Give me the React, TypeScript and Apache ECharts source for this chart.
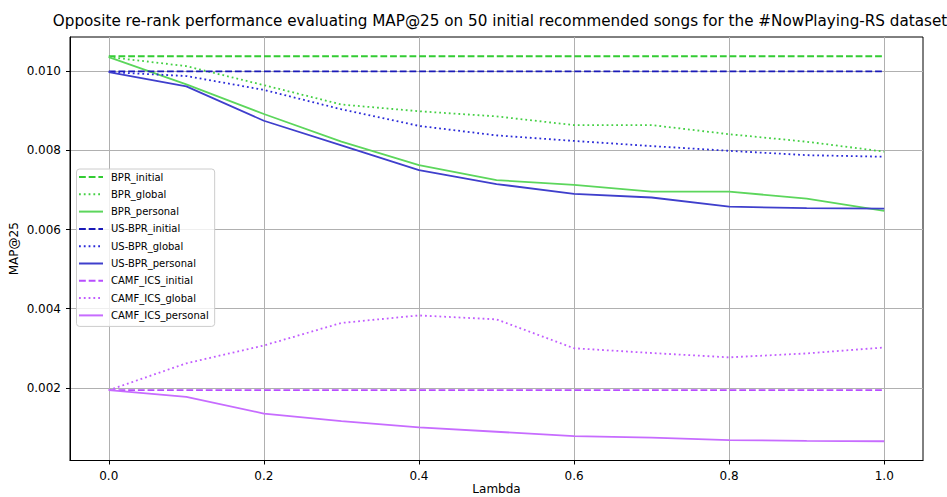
import React, { useEffect, useRef } from "react";
import * as echarts from "echarts";

// Re-rank trade-off parameter
const lambdas = [0, 0.1, 0.2, 0.3, 0.4, 0.5, 0.6, 0.7, 0.8, 0.9, 1.0];

// MAP@25 per model and re-rank strategy
const bprInitial = [0.01038, 0.01038, 0.01038, 0.01038, 0.01038, 0.01038, 0.01038, 0.01038, 0.01038, 0.01038, 0.01038];
const bprGlobal = [0.01036, 0.01013, 0.00965, 0.00916, 0.00899, 0.00886, 0.00864, 0.00864, 0.00841, 0.00822, 0.00797];
const bprPersonal = [0.01036, 0.00967, 0.00892, 0.00822, 0.00763, 0.00725, 0.00713, 0.00696, 0.00696, 0.00678, 0.00647];
const usBprInitial = [0.01, 0.01, 0.01, 0.01, 0.01, 0.01, 0.01, 0.01, 0.01, 0.01, 0.01];
const usBprGlobal = [0.00998, 0.00988, 0.00953, 0.00904, 0.00862, 0.00838, 0.00824, 0.00811, 0.00799, 0.00788, 0.00784];
const usBprPersonal = [0.00998, 0.00962, 0.00875, 0.00813, 0.0075, 0.00715, 0.0069, 0.00681, 0.00658, 0.00654, 0.00653];
const camfInitial = [0.00194, 0.00194, 0.00194, 0.00194, 0.00194, 0.00194, 0.00194, 0.00194, 0.00194, 0.00194, 0.00194];
const camfGlobal = [0.00194, 0.00262, 0.00307, 0.00364, 0.00383, 0.00373, 0.003, 0.00288, 0.00277, 0.00287, 0.00302];
const camfPersonal = [0.00194, 0.00177, 0.00135, 0.00116, 0.001, 0.00089, 0.00078, 0.00074, 0.00068, 0.00066, 0.00065];

const xTicks = [0, 0.2, 0.4, 0.6, 0.8, 1.0];
const yTicks = [0.002, 0.004, 0.006, 0.008, 0.01];

const FONT = "DejaVu Sans";
const DASHED = [6.8, 2.9];
const DOTTED = [1.8, 3];

type Style = "dashed" | "dotted" | "solid";

const seriesDefs: { name: string; values: number[]; color: string; style: Style }[] = [
  { name: "BPR_initial", values: bprInitial, color: "#33cc33", style: "dashed" },
  { name: "BPR_global", values: bprGlobal, color: "#44d044", style: "dotted" },
  { name: "BPR_personal", values: bprPersonal, color: "#5cd65c", style: "solid" },
  { name: "US-BPR_initial", values: usBprInitial, color: "#1a1ab8", style: "dashed" },
  { name: "US-BPR_global", values: usBprGlobal, color: "#2a2ad8", style: "dotted" },
  { name: "US-BPR_personal", values: usBprPersonal, color: "#3f3fcc", style: "solid" },
  { name: "CAMF_ICS_initial", values: camfInitial, color: "#b84dff", style: "dashed" },
  { name: "CAMF_ICS_global", values: camfGlobal, color: "#c15cff", style: "dotted" },
  { name: "CAMF_ICS_personal", values: camfPersonal, color: "#c76cff", style: "solid" },
];

export default function App() {
  const ref = useRef<HTMLDivElement>(null);

  useEffect(() => {
    if (!ref.current) return;
    const chart = echarts.init(ref.current, undefined, { renderer: "svg" });

    // matplotlib-style 5% data margins
    const all = seriesDefs.flatMap((s) => s.values);
    const lo = Math.min(...all);
    const hi = Math.max(...all);
    const pad = (hi - lo) * 0.05;
    const xPad = (lambdas[lambdas.length - 1] - lambdas[0]) * 0.05;

    const axisCommon = {
      axisLine: { show: true, onZero: false, lineStyle: { color: "#000", width: 1 } },
      axisTick: { show: true, inside: false, length: 4, lineStyle: { color: "#000", width: 1 } },
      splitLine: { show: true, lineStyle: { color: "#b0b0b0", width: 1 } },
      nameMoveOverlap: false,
      nameTextStyle: { fontFamily: FONT, fontSize: 12, color: "#000", lineHeight: 12 },
    };

    chart.setOption({
      animation: false,
      backgroundColor: "#fff",
      title: {
        text: "Opposite re-rank performance evaluating MAP@25 on 50 initial recommended songs for the #NowPlaying-RS dataset",
        left: 495,
        top: 8,
        textAlign: "center",
        textStyle: { fontFamily: FONT, fontSize: 15.2, fontWeight: "normal", color: "#000" },
      },
      grid: {
        left: 70,
        right: 24,
        top: 37,
        bottom: 36.5,
        outerBoundsMode: "none",
        show: true,
        borderColor: "#000",
        borderWidth: 1,
        backgroundColor: "transparent",
      },
      legend: {
        orient: "vertical",
        left: 76.5,
        top: 169,
        itemWidth: 24,
        itemHeight: 10,
        itemGap: 7.3,
        padding: [3, 6, 6, 1.5],
        backgroundColor: "rgba(255,255,255,0.8)",
        borderColor: "#cccccc",
        borderWidth: 1,
        borderRadius: 3,
        itemStyle: { opacity: 0 },
        textStyle: { fontFamily: FONT, fontSize: 10, color: "#000", lineHeight: 10, padding: [0, 0, 0, 3] },
        data: seriesDefs.map((s) => s.name),
      },
      xAxis: {
        type: "value",
        min: lambdas[0] - xPad,
        max: lambdas[lambdas.length - 1] + xPad,
        name: "Lambda",
        nameLocation: "middle",
        nameGap: 22,
        ...axisCommon,
        axisTick: { ...axisCommon.axisTick, customValues: xTicks },
        axisLabel: {
          customValues: xTicks,
          margin: 9,
          fontFamily: FONT,
          fontSize: 12,
          color: "#000",
          formatter: (v: number) => v.toFixed(1),
        },
      },
      yAxis: {
        type: "value",
        min: lo - pad,
        max: hi + pad,
        name: "MAP@25",
        nameLocation: "middle",
        nameGap: 50,
        nameRotate: 90,
        ...axisCommon,
        axisTick: { ...axisCommon.axisTick, customValues: yTicks },
        axisLabel: {
          customValues: yTicks,
          margin: 9,
          fontFamily: FONT,
          fontSize: 12,
          color: "#000",
          formatter: (v: number) => v.toFixed(3),
        },
      },
      series: seriesDefs.map((s) => ({
        name: s.name,
        type: "line",
        data: lambdas.map((x, i) => [x, s.values[i]]),
        symbol: "none",
        showSymbol: false,
        color: s.color,
        lineStyle: {
          color: s.color,
          width: 1.8,
          cap: "butt",
          type: s.style === "dashed" ? DASHED : s.style === "dotted" ? DOTTED : "solid",
        },
        emphasis: { disabled: true },
      })),
    });

    return () => chart.dispose();
  }, []);

  return <div ref={ref} style={{ width: 947, height: 497, position: "absolute", left: 0, top: 0 }} />;
}
